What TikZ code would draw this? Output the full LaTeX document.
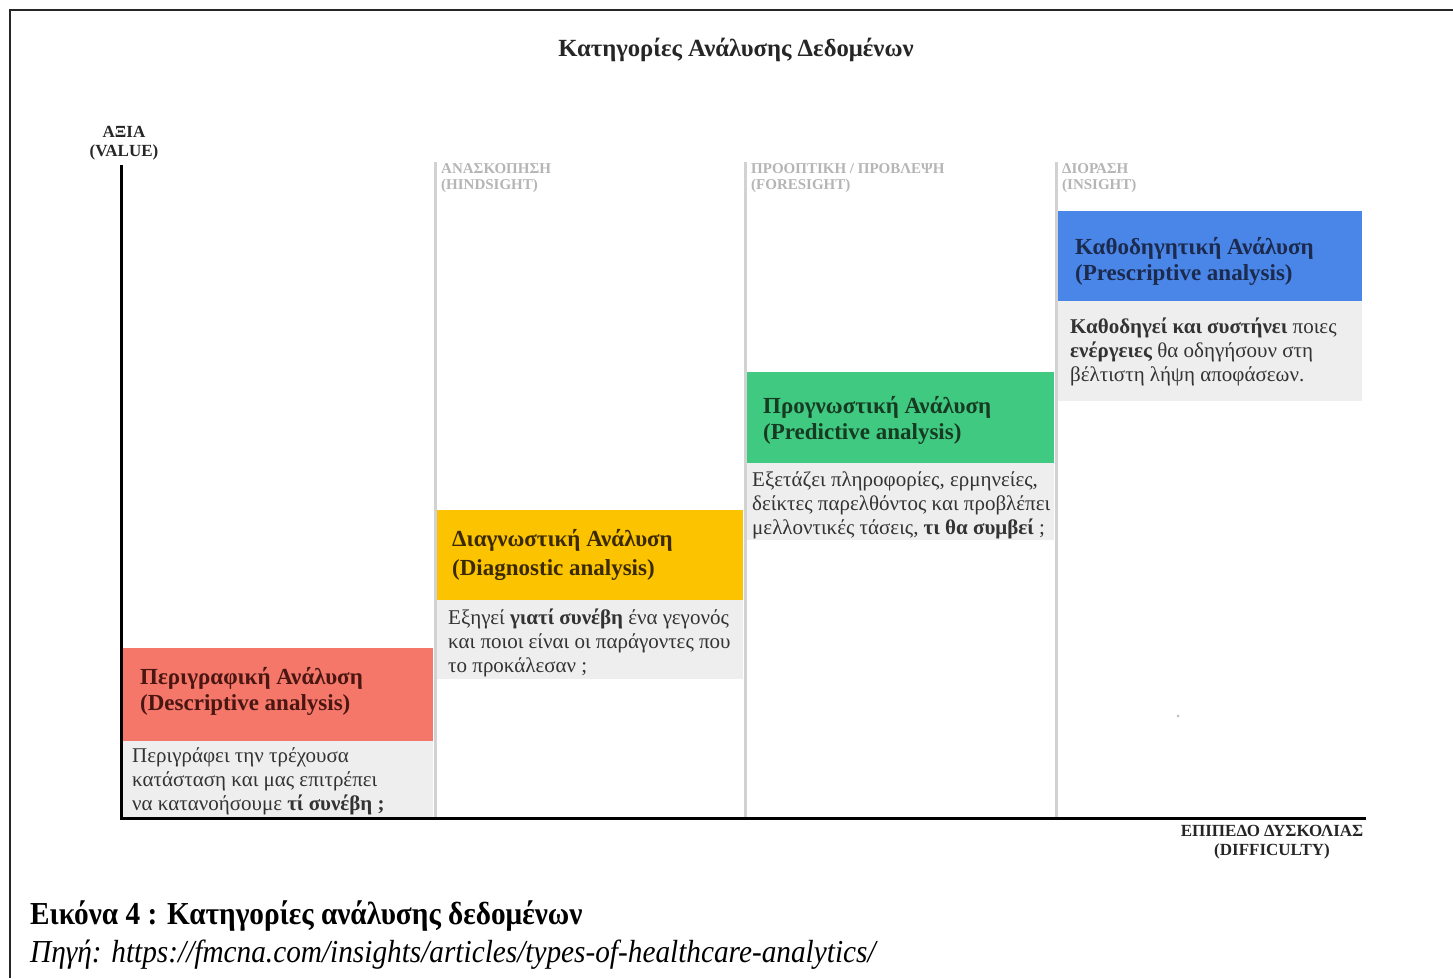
\documentclass[tikz,border=0pt]{standalone}
\usepackage{fontspec}
\setmainfont{Liberation Serif}
\newfontfamily\capfont[FakeStretch=0.915]{Liberation Serif}
\definecolor{redbox}{HTML}{F4776A}
\definecolor{redtxt}{HTML}{4A1612}
\definecolor{yelbox}{HTML}{FBC300}
\definecolor{yeltxt}{HTML}{3B2A00}
\definecolor{grnbox}{HTML}{40C980}
\definecolor{grntxt}{HTML}{173A22}
\definecolor{blubox}{HTML}{4A86E8}
\definecolor{blutxt}{HTML}{1B2A4D}
\definecolor{bodybg}{HTML}{EEEEEE}
\definecolor{bodytxt}{HTML}{333333}
\definecolor{divgray}{HTML}{D2D2D2}
\definecolor{hdrgray}{HTML}{B5B5B5}
\tikzset{
  boxtitle/.style={anchor=west, inner sep=0pt, align=left, font=\fontsize{23}{26}\selectfont\bfseries},
  boxbody/.style={anchor=west, inner sep=0pt, align=left, text=bodytxt, font=\fontsize{21}{24}\selectfont},
  colhdr/.style={anchor=north west, inner sep=0pt, align=left, text=hdrgray, font=\fontsize{15}{16}\selectfont\bfseries},
  divider/.style={draw=divgray, line width=3pt},
  axis/.style={draw=black, line width=3pt},
  axlabel/.style={inner sep=0pt, align=center, font=\fontsize{17}{19}\selectfont\bfseries, text=black!85}
}
\begin{document}
\begin{tikzpicture}[x=1pt,y=-1pt]
\useasboundingbox (0,0) rectangle (1453,978);
\fill[white] (0,0) rectangle (1453,978);
% frame
\draw[line width=1.5pt, black!85] (10,978) -- (10,10) -- (1453,10);
% title
\node[inner sep=0pt, font=\fontsize{24.7}{26}\selectfont\bfseries, text=black!85] (title) at (736,50) {Κατηγορίες Ανάλυσης Δεδομένων};

% column dividers
\coordinate (d1t) at (435,162); \coordinate (d1b) at (435,818);
\coordinate (d2t) at (745,162); \coordinate (d2b) at (745,818);
\coordinate (d3t) at (1056,162); \coordinate (d3b) at (1056,818);
\draw[divider] (d1t) -- (d1b);
\draw[divider] (d2t) -- (d2b);
\draw[divider] (d3t) -- (d3b);

% column headers
\node[colhdr] (h1) at (441,163) {ΑΝΑΣΚΟΠΗΣΗ\\(HINDSIGHT)};
\node[colhdr] (h2) at (751,163) {ΠΡΟΟΠΤΙΚΗ / ΠΡΟΒΛΕΨΗ\\(FORESIGHT)};
\node[colhdr] (h3) at (1062,163) {ΔΙΟΡΑΣΗ\\(INSIGHT)};

% boxes: descriptive
\fill[redbox] (123,648) rectangle (433,741);
\fill[bodybg] (123,741) rectangle (433,817);
\node[boxtitle, text=redtxt] (t1) at (140,691) {Περιγραφική Ανάλυση\\(Descriptive analysis)};
\node[boxbody] (b1) at (132,781) {Περιγράφει την τρέχουσα\\κατάσταση και μας επιτρέπει\\να κατανοήσουμε \textbf{τί συνέβη ;}};

% diagnostic
\fill[yelbox] (437,510) rectangle (743,600);
\fill[bodybg] (437,600) rectangle (743,679);
\node[boxtitle, text=yeltxt, font=\fontsize{23}{29}\selectfont\bfseries] (t2) at (452,555) {Διαγνωστική Ανάλυση\\(Diagnostic analysis)};
\node[boxbody] (b2) at (448,643) {Εξηγεί \textbf{γιατί συνέβη} ένα γεγονός\\και ποιοι είναι οι παράγοντες που\\το προκάλεσαν ;};

% predictive
\fill[grnbox] (747,372) rectangle (1054,463);
\fill[bodybg] (747,463) rectangle (1054,540);
\node[boxtitle, text=grntxt] (t3) at (763,420) {Προγνωστική Ανάλυση\\(Predictive analysis)};
\node[boxbody] (b3) at (752,505) {Εξετάζει πληροφορίες, ερμηνείες,\\δείκτες παρελθόντος και προβλέπει\\μελλοντικές τάσεις, \textbf{τι θα συμβεί} ;};

% prescriptive
\fill[blubox] (1058,211) rectangle (1362,301);
\fill[bodybg] (1058,301) rectangle (1362,401);
\node[boxtitle, text=blutxt] (t4) at (1075,261) {Καθοδηγητική Ανάλυση\\(Prescriptive analysis)};
\node[boxbody] (b4) at (1070,352) {\textbf{Καθοδηγεί και συστήνει} ποιες\\\textbf{ενέργειες} θα οδηγήσουν στη\\βέλτιστη λήψη αποφάσεων.};

% small dot
\fill[black!25] (1178,716) circle (1.5);

% axes
\coordinate (ytop) at (121,165);
\coordinate (origin) at (121,818);
\coordinate (xend) at (1366,818);
\draw[axis] (ytop) -- (origin) -- (xend);
\node[axlabel] (ylab) at (124,143) {ΑΞΙΑ\\(VALUE)};
\node[axlabel] (xlab) at (1272,842) {ΕΠΙΠΕΔΟ ΔΥΣΚΟΛΙΑΣ\\(DIFFICULTY)};

% caption
\node[anchor=west, inner sep=0pt, font=\capfont\fontsize{32}{34}\selectfont\bfseries] (cap) at (30,916) {Εικόνα 4 : Κατηγορίες ανάλυσης δεδομένων};
\node[anchor=west, inner sep=0pt, font=\capfont\fontsize{32}{34}\selectfont\itshape] (src) at (30,955) {Πηγή: https://fmcna.com/insights/articles/types-of-healthcare-analytics/};
\end{tikzpicture}
\end{document}
